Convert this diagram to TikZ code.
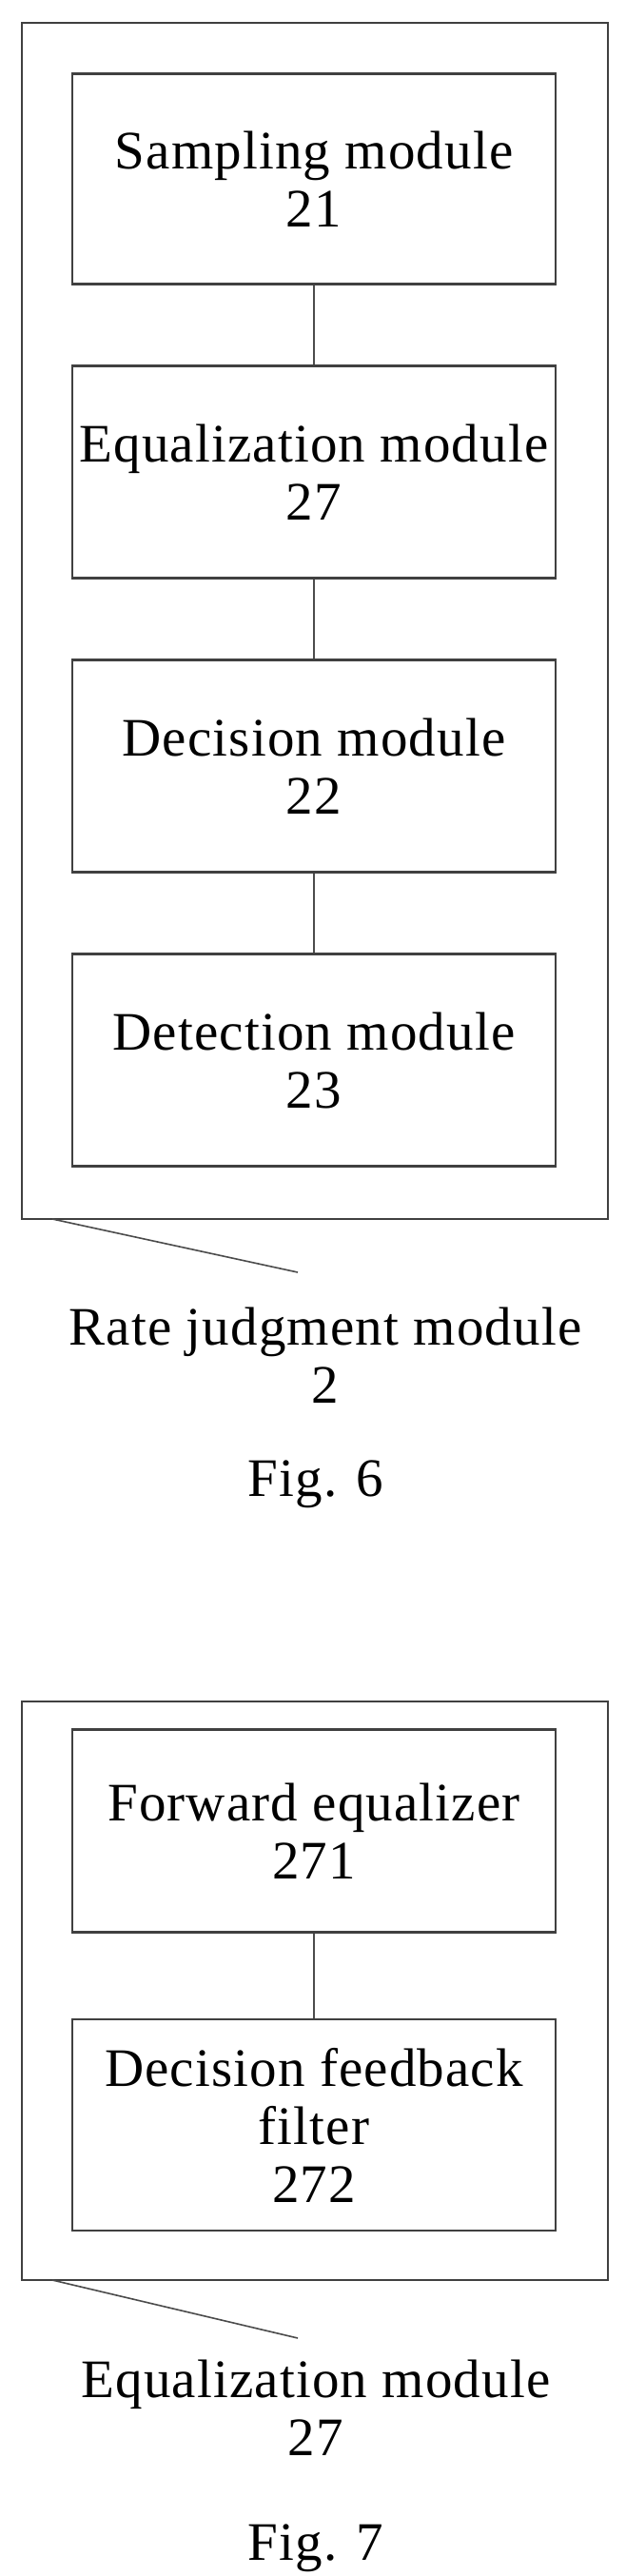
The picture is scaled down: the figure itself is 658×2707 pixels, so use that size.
\documentclass[tikz,border=0pt]{standalone}
\usepackage{fontspec}
\setmainfont{Liberation Serif}[LetterSpace=2]
\begin{document}
\begin{tikzpicture}[x=1pt,y=-1pt,
  frame/.style={draw=black!75,line width=2.2pt},
  mod/.style={draw=black!75,line width=2.2pt,minimum width=508pt,align=center,inner sep=0pt,font=\fontsize{57}{61}\selectfont},
  lbl/.style={align=center,font=\fontsize{57}{61}\selectfont},
  link/.style={draw=black!70,line width=2.2pt}]
\useasboundingbox (0,0) rectangle (658,2707);
% Fig 6
\draw[frame] (23,24) rectangle (639,1281);
\node[mod,minimum height=221pt] (a) at (330,188) {Sampling module\\21};
\node[mod,minimum height=223pt] (b) at (330,496) {Equalization module\\27};
\node[mod,minimum height=223pt] (c) at (330,805) {Decision module\\22};
\node[mod,minimum height=223pt] (d) at (330,1114) {Detection module\\23};
\draw[link] (a) -- (b);
\draw[link] (b) -- (c);
\draw[link] (c) -- (d);
\coordinate (l1a) at (55,1281);
\coordinate (l1b) at (313,1337);
\draw[link,line width=1.6pt] (l1a) -- (l1b);
\node[lbl] (t1) at (342,1424) {Rate judgment module\\2};
\node[lbl] (f6) at (332,1560) {Fig. 6};
% Fig 7
\draw[frame] (23,1788) rectangle (639,2396);
\node[mod,minimum height=213pt] (e) at (330,1924) {Forward equalizer\\271};
\node[mod,minimum height=222pt] (f) at (330,2233) {Decision feedback\\filter\\272};
\draw[link] (e) -- (f);
\coordinate (l2a) at (55,2396);
\coordinate (l2b) at (313,2457);
\draw[link,line width=1.6pt] (l2a) -- (l2b);
\node[lbl] (t2) at (332,2530) {Equalization module\\27};
\node[lbl] (f7) at (332,2678) {Fig. 7};
\end{tikzpicture}
\end{document}
